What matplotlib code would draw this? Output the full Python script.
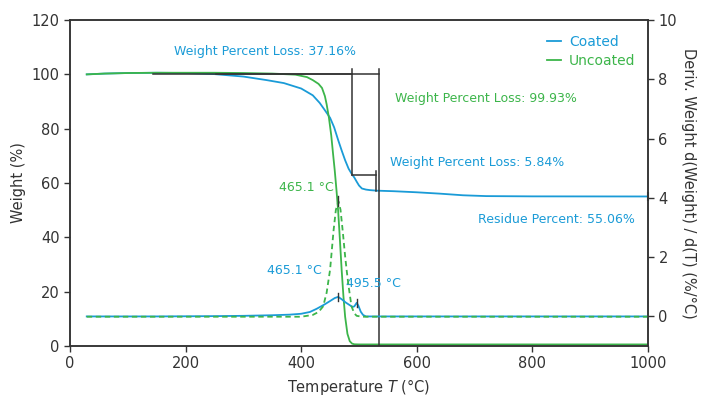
import matplotlib.pyplot as plt

# --- data ---
coated_T = [29, 60, 100, 150, 200, 250, 300, 340, 370, 400, 420, 432, 441, 450, 457, 464, 470,
            476, 482, 487, 492, 496, 500, 505, 512, 519, 531, 560, 600, 640, 680, 720, 800, 900, 1000]
coated_W = [100.0, 100.3, 100.5, 100.6, 100.5, 100.1, 99.2, 97.9, 96.8, 94.8, 92.3, 89.5, 86.8, 84.0,
            80.5, 75.8, 72.0, 68.4, 65.3, 63.5, 62.0, 60.5, 59.1, 58.0, 57.6, 57.4, 57.2, 57.0, 56.6,
            56.1, 55.5, 55.2, 55.1, 55.08, 55.06]

uncoated_T = [29, 60, 100, 150, 200, 250, 300, 350, 390, 410, 420, 430, 436, 441, 444, 448, 452, 455,
              458, 461, 464, 467, 470, 473, 476, 480, 484, 488, 492, 500, 600, 800, 1000]
uncoated_W = [100.0, 100.3, 100.5, 100.6, 100.6, 100.6, 100.5, 100.3, 99.9, 99.0, 97.9, 96.5, 95.0,
              92.0, 89.0, 84.0, 77.5, 71.0, 64.7, 57.5, 49.5, 39.0, 28.0, 18.5, 10.8, 4.5, 1.8, 0.9,
              0.65, 0.6, 0.6, 0.6, 0.6]

coated_dT = [29, 150, 250, 300, 350, 380, 400, 415, 427, 440, 450, 458, 464, 470, 477, 484, 489, 492,
             496, 499, 503, 507, 512, 1000]
coated_dW = [0.0, 0.0, 0.01, 0.02, 0.04, 0.06, 0.09, 0.15, 0.26, 0.40, 0.52, 0.62, 0.66, 0.58, 0.47,
             0.38, 0.32, 0.34, 0.46, 0.36, 0.16, 0.05, 0.0, 0.0]

uncoated_dT = [29, 300, 400, 420, 430, 438, 444, 450, 456, 460, 464.5, 468, 472, 476, 479, 482, 487,
               492, 496, 505, 1000]
uncoated_dW = [-0.01, -0.01, -0.01, 0.05, 0.15, 0.34, 0.8, 1.58, 2.9, 3.6, 3.88, 3.6, 2.85, 2.03, 1.5,
               1.02, 0.34, 0.1, 0.02, -0.01, -0.01]

BLUE = '#1a9bd7'
GREEN = '#3cb54a'
DARK = '#333333'

plt.rcParams['font.family'] = 'DejaVu Sans'
plt.rcParams['font.size'] = 10

fig = plt.figure(figsize=(7.09, 4.01), dpi=100)
ax = fig.add_axes([0.0987, 0.137, 0.8153, 0.813])
ax2 = ax.twinx()

l1, = ax.plot(coated_T, coated_W, color=BLUE, lw=1.3, label='Coated')
l2, = ax.plot(uncoated_T, uncoated_W, color=GREEN, lw=1.3, label='Uncoated')
ax2.plot(coated_dT, coated_dW, color=BLUE, lw=1.3)
ax2.plot(uncoated_dT, uncoated_dW, color=GREEN, lw=1.3, ls=(0, (3, 2)))

# step annotation lines
ax.plot([144, 535], [100.3, 100.3], color=DARK, lw=1.1)
ax.plot([535, 535], [102.0, 0.07], color=DARK, lw=1.1)
ax.plot([252, 488], [100.3, 100.3], color=DARK, lw=1.1)
ax.plot([488, 488], [102.0, 62.8], color=DARK, lw=1.1)
ax.plot([488, 529], [62.8, 62.8], color=DARK, lw=1.1)
ax.plot([529, 529], [64.6, 57.2], color=DARK, lw=1.1)
ax.plot([1000, 1000], [53.8, 56.3], color=DARK, lw=1.5, clip_on=False)

# peak markers
ax2.plot([464.5, 464.5], [3.72, 4.05], color=DARK, lw=1)
ax2.plot([464, 464], [0.52, 0.80], color=DARK, lw=1)
ax2.plot([496, 496], [0.33, 0.60], color=DARK, lw=1)

ax.text(337, 108.6, 'Weight Percent Loss: 37.16%', color=BLUE, fontsize=9, ha='center', va='center')
ax.text(562, 91.2, 'Weight Percent Loss: 99.93%', color=GREEN, fontsize=9, ha='left', va='center')
ax.text(554, 67.6, 'Weight Percent Loss: 5.84%', color=BLUE, fontsize=9, ha='left', va='center')
ax.text(978, 46.5, 'Residue Percent: 55.06%', color=BLUE, fontsize=9, ha='right', va='center')
ax.text(362, 58.5, '465.1 °C', color=GREEN, fontsize=9, ha='left', va='center')
ax.text(340, 27.7, '465.1 °C', color=BLUE, fontsize=9, ha='left', va='center')
ax.text(478, 23.0, '495.5 °C', color=BLUE, fontsize=9, ha='left', va='center')

ax.set_xlim(0, 1000)
ax.set_ylim(0, 120)
ax2.set_ylim(-1, 10)
ax.set_xticks([0, 200, 400, 600, 800, 1000])
ax.set_yticks([0, 20, 40, 60, 80, 100, 120])
ax2.set_yticks([0, 2, 4, 6, 8, 10])

ax.set_xlabel('Temperature $\\it{T}$ (°C)', fontsize=10.5, color=DARK)
ax.set_ylabel('Weight (%)', fontsize=10.5, color=DARK)
ax2.set_ylabel('Deriv. Weight d(Weight) / d(T) (%/°C)', fontsize=10.5, color=DARK, rotation=270, labelpad=14)

for a in (ax, ax2):
    a.tick_params(direction='out', length=4, width=1, colors=DARK, labelsize=10.5)
    for s in a.spines.values():
        s.set_color(DARK)
        s.set_linewidth(1.1)

ax2.legend(handles=[l1, l2], loc='upper right', bbox_to_anchor=(0.995, 0.985), frameon=False,
           labelcolor='linecolor', handlelength=1.0, fontsize=10, borderaxespad=0.3,
           handletextpad=0.6, labelspacing=0.35)

fig.savefig('out.png', dpi=100)
